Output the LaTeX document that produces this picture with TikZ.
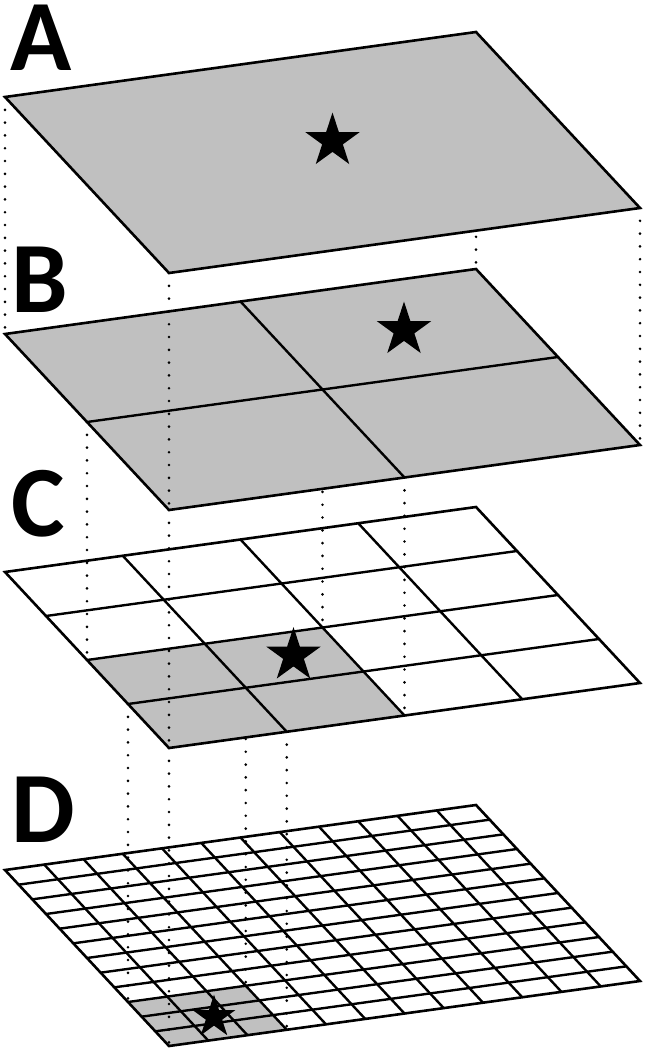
\documentclass[tikz,border=0pt]{standalone}
\usepackage{fontspec}
\setmainfont{Carlito}
\usetikzlibrary{calc,shapes.geometric}
\definecolor{planegray}{RGB}{192,192,192}
\tikzset{
  edgeline/.style={line width=2.6pt, line join=miter},
  gridline/.style={line width=2.4pt},
  proj/.style={line width=2.9pt, line cap=round, dash pattern=on 0pt off 12.8pt},
  starmark/.style={star, star points=5, star point ratio=2.618, fill=black, draw=none, inner sep=0pt, outer sep=0pt},
  planelabel/.style={font=\fontsize{101}{101}\selectfont\bfseries, inner sep=0pt, anchor=base}
}
\begin{document}
\begin{tikzpicture}[x=1pt,y=-1pt]
\useasboundingbox (0,0) rectangle (648,1055);
\foreach \P/\o in {A/0,B/237,C/475,D/773}{
  \coordinate (\P-L) at (5,97+\o);
  \coordinate (\P-T) at (476,32+\o);
  \coordinate (\P-R) at (640,208+\o);
  \coordinate (\P-B) at (169,273+\o);
}
% ---------- plane D ----------
\fill[white] (D-L) -- (D-T) -- (D-R) -- (D-B) -- cycle;
\fill[planegray] ($(D-L)+0.75*(164,176)$) -- ($(D-L)+0.25*(471,-65)+0.75*(164,176)$)
  -- ($(D-L)+0.25*(471,-65)+(164,176)$) -- (D-B) -- cycle;
\foreach \i in {1,...,11}{
  \draw[gridline] ($(D-L)!\i/12!(D-T)$) -- ($(D-B)!\i/12!(D-R)$);
  \draw[gridline] ($(D-L)!\i/12!(D-B)$) -- ($(D-T)!\i/12!(D-R)$);
}
\draw[edgeline] (D-L) -- (D-T) -- (D-R) -- (D-B) -- cycle;
\node[starmark, minimum size=45pt] (starD) at (214,1017) {};
% projections C -> D
\foreach \s/\t in {0/0.75,0/1,0.25/0.75,0.25/1}
  \draw[proj] ($(C-L)+\s*(471,-65)+\t*(164,176)$) -- ($(D-L)+\s*(471,-65)+\t*(164,176)$);
% ---------- plane C ----------
\fill[white] (C-L) -- (C-T) -- (C-R) -- (C-B) -- cycle;
\fill[planegray] ($(C-L)+0.5*(164,176)$) -- ($(C-L)+0.5*(471,-65)+0.5*(164,176)$)
  -- ($(C-L)+0.5*(471,-65)+(164,176)$) -- (C-B) -- cycle;
\foreach \i in {1,...,3}{
  \draw[gridline] ($(C-L)!\i/4!(C-T)$) -- ($(C-B)!\i/4!(C-R)$);
  \draw[gridline] ($(C-L)!\i/4!(C-B)$) -- ($(C-T)!\i/4!(C-R)$);
}
\draw[edgeline] (C-L) -- (C-T) -- (C-R) -- (C-B) -- cycle;
\node[starmark, minimum size=57pt] (starC) at (293.5,655.5) {};
% projections B -> C
\foreach \s/\t in {0/0.5,0/1,0.5/0.5,0.5/1}
  \draw[proj] ($(B-L)+\s*(471,-65)+\t*(164,176)$) -- ($(C-L)+\s*(471,-65)+\t*(164,176)$);
% ---------- plane B ----------
\fill[planegray] (B-L) -- (B-T) -- (B-R) -- (B-B) -- cycle;
\draw[gridline] ($(B-L)!0.5!(B-T)$) -- ($(B-B)!0.5!(B-R)$);
\draw[gridline] ($(B-L)!0.5!(B-B)$) -- ($(B-T)!0.5!(B-R)$);
\draw[edgeline] (B-L) -- (B-T) -- (B-R) -- (B-B) -- cycle;
\node[starmark, minimum size=57pt] (starB) at (404,330) {};
% projections A -> B
\foreach \c in {L,T,R,B}
  \draw[proj] (A-\c) -- (B-\c);
% ---------- plane A ----------
\fill[planegray] (A-L) -- (A-T) -- (A-R) -- (A-B) -- cycle;
\draw[edgeline] (A-L) -- (A-T) -- (A-R) -- (A-B) -- cycle;
\node[starmark, minimum size=57pt] (starA) at (332.5,141) {};
% ---------- labels ----------
\node[planelabel] (labA) at (41,70) {A};
\node[planelabel] (labB) at (40,312) {B};
\node[planelabel] (labC) at (38,536) {C};
\node[planelabel] (labD) at (43,842) {D};
\end{tikzpicture}
\end{document}
